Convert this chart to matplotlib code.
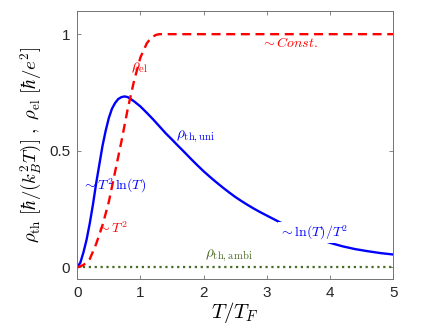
import matplotlib
matplotlib.use("Agg")
import matplotlib.pyplot as plt
import numpy as np

plt.rcParams['mathtext.fontset'] = 'cm'
plt.rcParams['font.family'] = ['Liberation Sans', 'DejaVu Sans']

# rho_th,uni (blue, solid)
t_uni = [0, 0.05, 0.1, 0.15, 0.2, 0.25, 0.3, 0.35, 0.4, 0.45, 0.5, 0.55, 0.6, 0.65,
         0.7, 0.75, 0.8, 0.9, 1.0, 1.1, 1.2, 1.3, 1.4, 1.5, 1.6, 1.7, 1.8, 1.9, 2.0,
         2.1, 2.2, 2.3, 2.4, 2.5, 2.6, 2.7, 2.8, 2.9, 3.0, 3.2, 3.4, 3.6, 3.8, 4.0,
         4.2, 4.4, 4.6, 4.8, 5.0]
rho_uni = [0, 0.02, 0.065, 0.12, 0.19, 0.27, 0.36, 0.44, 0.52, 0.585, 0.64, 0.68,
           0.705, 0.722, 0.73, 0.733, 0.73, 0.712, 0.69, 0.663, 0.635, 0.605, 0.575,
           0.548, 0.52, 0.493, 0.465, 0.438, 0.412, 0.388, 0.365, 0.343, 0.322, 0.302,
           0.284, 0.267, 0.251, 0.236, 0.222, 0.194, 0.170, 0.146, 0.124, 0.105,
           0.090, 0.078, 0.069, 0.061, 0.055]

# rho_el (red, dashed)
t_el = [0, 0.1, 0.2, 0.3, 0.4, 0.5, 0.6, 0.7, 0.8, 0.9, 1.0, 1.1, 1.15, 1.2, 1.25,
        1.3, 2.0, 3.0, 4.0, 5.0]
rho_el = [0, 0.01, 0.036, 0.1, 0.18, 0.28, 0.41, 0.54, 0.68, 0.80, 0.9, 0.96, 0.978,
          0.99, 0.997, 1.0, 1.0, 1.0, 1.0, 1.0]

# rho_th,ambi (green, dotted)
t_ambi = [0, 1, 2, 3, 4, 5]
rho_ambi = [0, 0, 0, 0, 0, 0]

fig = plt.figure(figsize=(4.36, 3.29), dpi=100)
ax = fig.add_axes([0.177, 0.152, 0.725, 0.815])

ax.plot(t_ambi, rho_ambi, ':', color='#4a6b26', linewidth=1.6)
ax.plot(t_uni, rho_uni, '-', color='#0000ff', linewidth=1.7)
ax.plot(t_el, rho_el, '--', color='#ff0000', linewidth=1.7, dashes=(3.8, 2.4))

ax.set_xlim(0, 5)
ax.set_ylim(-0.05, 1.1)
ax.set_xticks([0, 1, 2, 3, 4, 5])
ax.set_yticks([0, 0.5, 1])
ax.set_yticklabels(['0', '0.5', '1'])
ax.tick_params(axis='both', which='both', direction='in', top=True, right=True,
               length=3, width=0.6, color='0.45', labelsize=11, labelcolor='#262626', pad=5)
for sp in ax.spines.values():
    sp.set_color('0.45')
    sp.set_linewidth(0.7)

ax.set_xlabel(r'$T/T_F$', fontsize=15, labelpad=0)
ax.set_ylabel(r'$\rho_{\rm th}\ [\hbar/(k_B^2T)]\ ,\ \rho_{\rm el}\ [\hbar/e^2]$',
              fontsize=13.5, labelpad=4)

fs = 11
ax.text(0.85, 0.855, r'$\rho_{\rm el}$', color='#ff0000', fontsize=fs, va='center')
ax.text(1.57, 0.56, r'$\rho_{\rm th,uni}$', color='#0000ff', fontsize=fs, va='center')
ax.text(0.07, 0.35, r'$\sim T^2\,\ln(T)$', color='#0000ff', fontsize=fs - 1, va='center')
ax.text(0.3, 0.17, r'$\sim T^2$', color='#ff0000', fontsize=fs - 1, va='center')
ax.text(2.9, 0.96, r'$\sim Const.$', color='#ff0000', fontsize=fs - 1, va='center')
ax.text(3.2, 0.15, r'$\sim \ln(T)/T^2$', color='#0000ff', fontsize=fs - 1, va='center',
        bbox=dict(facecolor='white', edgecolor='none', pad=1))
ax.text(2.02, 0.05, r'$\rho_{\rm th,ambi}$', color='#4a6b26', fontsize=fs, va='center')

fig.savefig('out.png', dpi=100)
